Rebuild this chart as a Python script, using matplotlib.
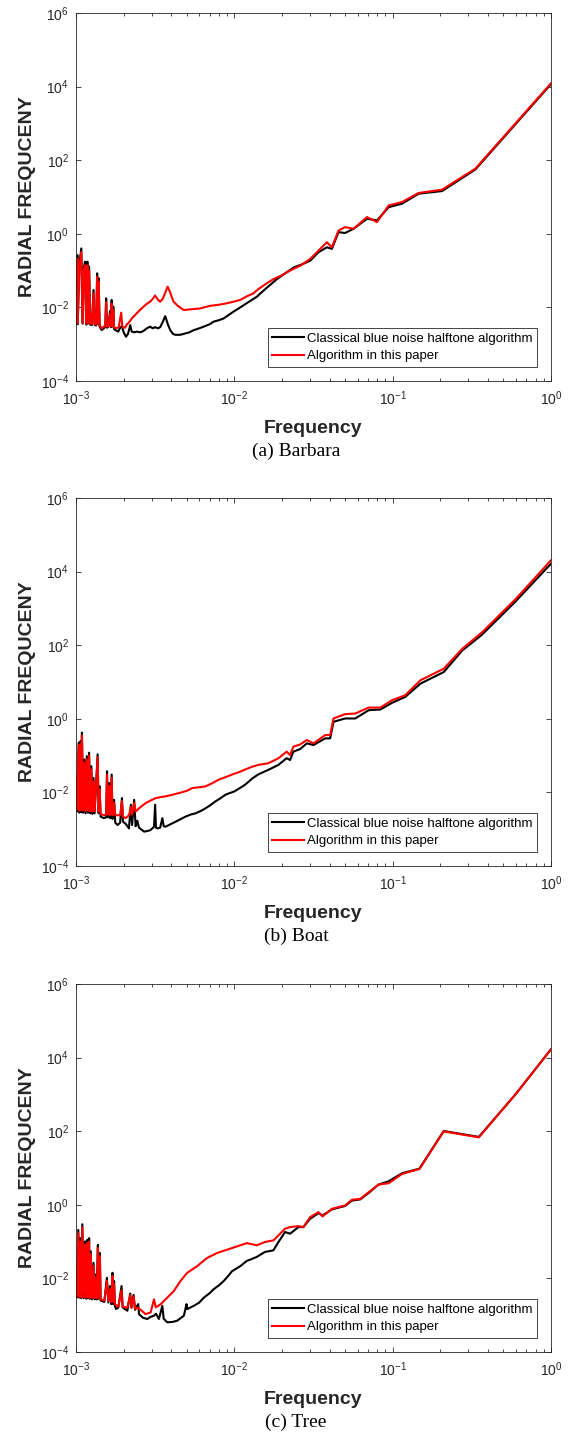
import numpy as np
import matplotlib
matplotlib.use("Agg")
import matplotlib.pyplot as plt
import matplotlib.ticker as ticker

plt.rcParams.update({
    'font.family': ['Liberation Sans', 'DejaVu Sans'],
    'axes.unicode_minus': False,
    'xtick.labelsize': 10,
    'ytick.labelsize': 10,
})

# ---------------- (a) Barbara ----------------
barbara_f_black = [0.00100, 0.00101, 0.00102, 0.001025, 0.00105, 0.00108, 0.00110, 0.00112, 0.00114, 0.00116,
                   0.00118, 0.00119, 0.00121, 0.00123, 0.00126, 0.00129, 0.00131, 0.00134, 0.00136, 0.00138,
                   0.00139, 0.00141, 0.00145, 0.00150, 0.00153, 0.00155, 0.00157, 0.00160, 0.00164, 0.00166,
                   0.00168, 0.00170, 0.00172, 0.00174, 0.00177, 0.00185, 0.00190, 0.00195, 0.00200, 0.00207,
                   0.00213, 0.00220, 0.00225, 0.00233, 0.00242, 0.00255, 0.00267, 0.00280, 0.00294, 0.00305,
                   0.00316, 0.00330, 0.00340, 0.00353, 0.00366, 0.00380, 0.00394, 0.00410, 0.00424, 0.00455,
                   0.00478, 0.00520, 0.00553, 0.00600, 0.0064, 0.0070, 0.0074, 0.0080, 0.00855, 0.0092,
                   0.0099, 0.0105, 0.01146, 0.0126, 0.0139, 0.0146, 0.0165, 0.0186, 0.0210, 0.0238,
                   0.0270, 0.0302, 0.034, 0.0384, 0.0413, 0.0455, 0.0501, 0.0566, 0.0689, 0.0796,
                   0.0944, 0.1146, 0.146, 0.205, 0.333, 1.0]
barbara_black = [0.0045, 0.0035, 0.265, 0.0035, 0.15, 0.40, 0.0036, 0.12, 0.175, 0.0034,
                 0.175, 0.0036, 0.128, 0.0034, 0.0033, 0.0297, 0.0034, 0.0032, 0.0843, 0.0035,
                 0.0616, 0.0030, 0.00243, 0.0027, 0.0030, 0.0176, 0.0028, 0.0030, 0.0080, 0.0029,
                 0.0159, 0.0030, 0.0105, 0.0026, 0.00243, 0.0022, 0.0028, 0.00313, 0.0021, 0.0016,
                 0.0019, 0.0033, 0.0022, 0.0021, 0.0022, 0.0021, 0.0023, 0.0027, 0.0030, 0.0027,
                 0.0029, 0.0027, 0.0029, 0.0040, 0.0058, 0.0035, 0.0024, 0.0019, 0.0018, 0.0018,
                 0.0019, 0.0021, 0.0024, 0.0027, 0.0030, 0.0035, 0.0041, 0.0045, 0.0050, 0.0062,
                 0.0077, 0.0090, 0.0115, 0.0150, 0.0196, 0.024, 0.038, 0.059, 0.085, 0.123,
                 0.150, 0.187, 0.316, 0.43, 0.39, 1.11, 1.05, 1.37, 2.57, 2.31,
                 5.3, 6.6, 12.3, 14.5, 56, 11700]
barbara_f_red = [0.00100, 0.00101, 0.00102, 0.001025, 0.00105, 0.00108, 0.00110, 0.00112, 0.00114, 0.00116,
                 0.00118, 0.00119, 0.00121, 0.00123, 0.00126, 0.00129, 0.00131, 0.00134, 0.00136, 0.00138,
                 0.00139, 0.00141, 0.00145, 0.00150, 0.00153, 0.00155, 0.00157, 0.00160, 0.00164, 0.00166,
                 0.00168, 0.00170, 0.00172, 0.00174, 0.00180, 0.00186, 0.00193, 0.00196, 0.00204, 0.00210,
                 0.00214, 0.00225, 0.00236, 0.00250, 0.00267, 0.00280, 0.00294, 0.00305, 0.00316, 0.00330,
                 0.00340, 0.00353, 0.00366, 0.00379, 0.00394, 0.00413, 0.00440, 0.00478, 0.00520, 0.0061,
                 0.0070, 0.0080, 0.0090, 0.0099, 0.0109, 0.0120, 0.0132, 0.01426, 0.0160, 0.0177,
                 0.0200, 0.0215, 0.0240, 0.0262, 0.0302, 0.034, 0.0384, 0.0413, 0.0455, 0.0501,
                 0.0566, 0.0689, 0.0796, 0.0944, 0.1146, 0.146, 0.205, 0.333, 1.0]
barbara_red = [0.0045, 0.0037, 0.21, 0.0037, 0.12, 0.32, 0.0038, 0.10, 0.14, 0.0036,
               0.14, 0.0038, 0.10, 0.0036, 0.0035, 0.024, 0.0036, 0.0034, 0.068, 0.0037,
               0.050, 0.0033, 0.0027, 0.0030, 0.0031, 0.014, 0.0030, 0.0031, 0.0066, 0.0030,
               0.0127, 0.0031, 0.0085, 0.0029, 0.0027, 0.0029, 0.0072, 0.0030, 0.0028, 0.0035,
               0.0037, 0.0050, 0.0062, 0.0080, 0.0105, 0.0125, 0.0143, 0.0170, 0.0210, 0.0160,
               0.0143, 0.0170, 0.025, 0.0366, 0.025, 0.0143, 0.0110, 0.0085, 0.0088, 0.0094,
               0.0110, 0.0118, 0.0130, 0.0143, 0.0160, 0.0200, 0.0241, 0.0320, 0.045, 0.059,
               0.075, 0.090, 0.115, 0.137, 0.209, 0.35, 0.59, 0.43, 1.23, 1.52,
               1.37, 2.85, 2.08, 5.9, 7.3, 12.9, 15.8, 59, 12300]

# ---------------- (b) Boat ----------------
boat_f_black = [0.00100, 0.00101, 0.00104, 0.00105, 0.00107, 0.00108, 0.00109, 0.00111, 0.00113, 0.00115,
                0.00117, 0.00119, 0.00121, 0.00123, 0.00125, 0.00127, 0.00129, 0.00131, 0.00137, 0.00139,
                0.00141, 0.00143, 0.00150, 0.00155, 0.00157, 0.00159, 0.00162, 0.00164, 0.00168, 0.00170,
                0.00174, 0.00177, 0.00183, 0.00190, 0.00195, 0.00198, 0.00206, 0.00216, 0.00222, 0.00226,
                0.00233, 0.00238, 0.00244, 0.00250, 0.00269, 0.00285, 0.00296, 0.00311, 0.00316, 0.00320,
                0.00327, 0.00340, 0.00351, 0.00358, 0.00368, 0.00400, 0.00426, 0.00460, 0.00492, 0.00530,
                0.00569, 0.00620, 0.00658, 0.0070, 0.0076, 0.0082, 0.00877, 0.0093, 0.0100, 0.0108,
                0.0117, 0.0130, 0.0142, 0.0164, 0.0190, 0.0214, 0.0225, 0.0236, 0.0260, 0.0287,
                0.0316, 0.0375, 0.0403, 0.0423, 0.0501, 0.0580, 0.0705, 0.0836, 0.099, 0.120,
                0.1496, 0.210, 0.275, 0.367, 0.597, 1.0]
boat_black = [0.020, 0.0030, 0.225, 0.0028, 0.25, 0.0029, 0.42, 0.0028, 0.0785, 0.0027,
              0.097, 0.0028, 0.12, 0.0027, 0.0515, 0.0026, 0.0247, 0.0027, 0.108, 0.0027,
              0.0146, 0.0022, 0.0020, 0.0021, 0.0376, 0.0021, 0.018, 0.0020, 0.0305, 0.0019,
              0.0063, 0.0015, 0.0013, 0.0015, 0.0070, 0.0016, 0.0014, 0.00105, 0.0046, 0.0013,
              0.0063, 0.0012, 0.0017, 0.0011, 0.00086, 0.00090, 0.00095, 0.00117, 0.0046, 0.0011,
              0.00105, 0.0011, 0.0020, 0.0012, 0.00117, 0.0014, 0.0016, 0.0019, 0.0022, 0.0025,
              0.0027, 0.0032, 0.0037, 0.0044, 0.0057, 0.0070, 0.0086, 0.0095, 0.0106, 0.0130,
              0.0162, 0.024, 0.031, 0.041, 0.056, 0.085, 0.076, 0.128, 0.15, 0.215,
              0.194, 0.294, 0.294, 0.83, 1.02, 1.02, 1.71, 1.79, 2.71, 3.93,
              9.0, 18.6, 71.8, 194, 1545, 16400]
boat_f_red = [0.00100, 0.00101, 0.00104, 0.00105, 0.00107, 0.00108, 0.00109, 0.00111, 0.00113, 0.00115,
              0.00117, 0.00119, 0.00121, 0.00123, 0.00125, 0.00127, 0.00129, 0.00131, 0.00137, 0.00139,
              0.00141, 0.00143, 0.00150, 0.00155, 0.00157, 0.00159, 0.00162, 0.00164, 0.00168, 0.00170,
              0.00174, 0.00177, 0.00190, 0.00195, 0.00198, 0.00206, 0.00216, 0.00222, 0.00226, 0.00233,
              0.00238, 0.0025, 0.00275, 0.00300, 0.00319, 0.00345, 0.00368, 0.0040, 0.00447, 0.0050,
              0.00542, 0.0060, 0.00658, 0.0072, 0.00797, 0.0088, 0.00967, 0.0108, 0.0117, 0.0130,
              0.0142, 0.0164, 0.0190, 0.0214, 0.0225, 0.0236, 0.0260, 0.0287, 0.0316, 0.0375,
              0.0403, 0.0423, 0.0501, 0.0580, 0.0705, 0.0836, 0.099, 0.120, 0.1496, 0.210,
              0.275, 0.367, 0.597, 1.0]
boat_red = [0.030, 0.0034, 0.19, 0.0032, 0.21, 0.0033, 0.35, 0.0032, 0.065, 0.0031,
            0.08, 0.0032, 0.10, 0.0031, 0.042, 0.0030, 0.020, 0.0031, 0.09, 0.0030,
            0.012, 0.0026, 0.0024, 0.0025, 0.030, 0.0025, 0.015, 0.0024, 0.025, 0.0024,
            0.0052, 0.0024, 0.0024, 0.0058, 0.0022, 0.0020, 0.0024, 0.0040, 0.0025, 0.0052,
            0.0030, 0.0037, 0.0051, 0.0062, 0.0070, 0.0075, 0.0078, 0.0085, 0.0096, 0.0110,
            0.0131, 0.0138, 0.0146, 0.0175, 0.0222, 0.026, 0.0305, 0.036, 0.042, 0.050,
            0.056, 0.062, 0.085, 0.128, 0.104, 0.175, 0.20, 0.265, 0.215, 0.362,
            0.362, 1.02, 1.34, 1.39, 2.02, 2.02, 3.2, 4.36, 11.1, 22.9,
            79.6, 224, 1780, 20300]

# ---------------- (c) Tree ----------------
tree_f_black = [0.00100, 0.00101, 0.001034, 0.00105, 0.001064, 0.00108, 0.001096, 0.00112, 0.00114, 0.00116,
                0.00118, 0.00119, 0.00121, 0.00122, 0.00124, 0.00126, 0.00129, 0.00131, 0.00133, 0.00135,
                0.001375, 0.00139, 0.001415, 0.00143, 0.00151, 0.001567, 0.00160, 0.00164, 0.00167, 0.00170,
                0.00172, 0.00174, 0.00176, 0.00179, 0.00185, 0.00194, 0.00197, 0.00211, 0.00220, 0.00224,
                0.00231, 0.00236, 0.00247, 0.00250, 0.00265, 0.00282, 0.00296, 0.00311, 0.00320, 0.00334,
                0.00351, 0.00358, 0.00377, 0.00410, 0.00436, 0.00480, 0.00499, 0.00504, 0.00555, 0.00600,
                0.00642, 0.00700, 0.00741, 0.0080, 0.00857, 0.0092, 0.00967, 0.0109, 0.0120, 0.0126,
                0.01385, 0.0146, 0.0156, 0.01765, 0.0190, 0.0209, 0.0225, 0.0254, 0.0273, 0.0301,
                0.034, 0.0361, 0.0413, 0.0501, 0.0553, 0.0624, 0.0705, 0.0815, 0.0944, 0.1146,
                0.1476, 0.210, 0.350, 0.597, 1.0]
tree_black = [0.0157, 0.0030, 0.208, 0.0030, 0.124, 0.0029, 0.296, 0.0029, 0.101, 0.0028,
              0.112, 0.0029, 0.124, 0.0028, 0.0544, 0.0027, 0.0264, 0.0027, 0.0128, 0.0027,
              0.082, 0.0028, 0.049, 0.0025, 0.0023, 0.0104, 0.0022, 0.0062, 0.0020, 0.0142,
              0.0020, 0.0085, 0.0018, 0.00147, 0.0016, 0.0062, 0.00163, 0.00132, 0.00387, 0.0016,
              0.00356, 0.0014, 0.0020, 0.00107, 0.00085, 0.00079, 0.00090, 0.00097, 0.0011, 0.00079,
              0.0018, 0.0008, 0.00064, 0.00066, 0.00071, 0.00097, 0.0020, 0.00147, 0.0018, 0.0022,
              0.0030, 0.0040, 0.0051, 0.0065, 0.0085, 0.0120, 0.0157, 0.0215, 0.030, 0.0324,
              0.0383, 0.044, 0.0523, 0.058, 0.0975, 0.182, 0.164, 0.248, 0.248, 0.418,
              0.594, 0.514, 0.75, 0.93, 1.30, 1.40, 2.1, 3.55, 4.37, 7.2,
              9.6, 101, 70, 1000, 16900]
tree_f_red = [0.00100, 0.00101, 0.001034, 0.00105, 0.001064, 0.00108, 0.001096, 0.00112, 0.00114, 0.00116,
              0.00118, 0.00119, 0.00121, 0.00122, 0.00124, 0.00126, 0.00129, 0.00131, 0.00133, 0.00135,
              0.001375, 0.00139, 0.001415, 0.00143, 0.00151, 0.001567, 0.00160, 0.00164, 0.00167, 0.00170,
              0.00172, 0.00174, 0.00176, 0.00185, 0.00194, 0.00197, 0.00211, 0.00220, 0.00224, 0.00231,
              0.00236, 0.00245, 0.00256, 0.00275, 0.00296, 0.00311, 0.00319, 0.00343, 0.00377, 0.00415,
              0.00457, 0.00504, 0.00582, 0.00673, 0.00778, 0.0090, 0.0104, 0.0120, 0.01385, 0.0156,
              0.01765, 0.0190, 0.0209, 0.0225, 0.0254, 0.0273, 0.0301, 0.034, 0.0361, 0.0413,
              0.0501, 0.0553, 0.0624, 0.0705, 0.0815, 0.0944, 0.1146, 0.1476, 0.210, 0.350,
              0.597, 1.0]
tree_red = [0.0142, 0.0032, 0.17, 0.0032, 0.10, 0.0031, 0.24, 0.0031, 0.083, 0.0030,
            0.092, 0.0031, 0.10, 0.0030, 0.045, 0.0029, 0.022, 0.0029, 0.0105, 0.0029,
            0.067, 0.0030, 0.040, 0.0027, 0.0025, 0.0085, 0.0024, 0.0051, 0.0023, 0.0117,
            0.0023, 0.0070, 0.0020, 0.0017, 0.0048, 0.0017, 0.0016, 0.0035, 0.0016, 0.0032,
            0.0015, 0.0016, 0.0014, 0.00107, 0.00119, 0.0027, 0.00163, 0.0020, 0.0030, 0.00456,
            0.0085, 0.0142, 0.0215, 0.036, 0.049, 0.0603, 0.074, 0.091, 0.0792, 0.0975,
            0.108, 0.148, 0.224, 0.248, 0.264, 0.248, 0.463, 0.633, 0.483, 0.78,
            0.96, 1.37, 1.45, 2.2, 3.55, 3.86, 6.9, 9.4, 98.8, 68,
            1012, 16700]

captions = ['(a) Barbara', '(b) Boat', '(c) Tree']
legend_labels = ['Classical blue noise halftone algorithm', 'Algorithm in this paper']

panels = [
    (barbara_f_black, barbara_black, barbara_f_red, barbara_red),
    (boat_f_black, boat_black, boat_f_red, boat_red),
    (tree_f_black, tree_black, tree_f_red, tree_red),
]

W, H = 573, 1433
fig = plt.figure(figsize=(W / 100, H / 100), dpi=100)

ax_left, ax_right = 76, 551
ax_tops = [13, 498, 984]
ax_h = 368
gray = '#262626'

for i, (fb, yb, fr, yr) in enumerate(panels):
    top = ax_tops[i]
    ax = fig.add_axes([ax_left / W, 1 - (top + ax_h) / H, (ax_right - ax_left) / W, ax_h / H])
    ax.plot(fb, yb, color='black', lw=1.5, label=legend_labels[0])
    ax.plot(fr, yr, color='#ff0000', lw=1.5, label=legend_labels[1])
    ax.set_xscale('log')
    ax.set_yscale('log')
    ax.set_xlim(1e-3, 1)
    ax.set_ylim(1e-4, 1e6)
    ax.xaxis.set_major_locator(ticker.FixedLocator([1e-3, 1e-2, 1e-1, 1]))
    ax.xaxis.set_minor_locator(ticker.LogLocator(base=10, subs=np.arange(2, 10)))
    ax.xaxis.set_minor_formatter(ticker.NullFormatter())
    ax.yaxis.set_major_locator(ticker.FixedLocator([1e-4, 1e-2, 1, 1e2, 1e4, 1e6]))
    ax.yaxis.set_minor_locator(ticker.NullLocator())
    ax.tick_params(which='both', direction='in', top=True, right=True, colors=gray, width=0.6)
    ax.tick_params(which='major', length=3.5)
    ax.tick_params(which='minor', length=2)
    ax.tick_params(axis='y', pad=5)
    ax.tick_params(axis='x', pad=6)
    for sp in ax.spines.values():
        sp.set_color(gray)
        sp.set_linewidth(0.6)

    leg = ax.legend(loc='lower right', bbox_to_anchor=(0.971, 0.038), borderaxespad=0,
                    fontsize=9.5, handlelength=2.4, handletextpad=0.25, labelspacing=0.4,
                    borderpad=0.35, fancybox=False, framealpha=1)
    leg.get_frame().set_edgecolor(gray)
    leg.get_frame().set_linewidth(0.6)

    ax.text(0.5, -0.128, 'Frequency', transform=ax.transAxes, ha='center', va='center',
            fontsize=14, fontweight='bold', color=gray)
    ax.text(-0.103, 0.5, 'RADIAL FREQUCENY', transform=ax.transAxes, ha='center', va='center',
            rotation=90, fontsize=14, fontweight='bold', color=gray)
    fig.text(296 / W, 1 - (top + ax_h + 70) / H, captions[i], ha='center', va='center',
             fontsize=14, family=['Liberation Serif', 'DejaVu Serif'], color='black')

fig.savefig('out.png', dpi=100)
